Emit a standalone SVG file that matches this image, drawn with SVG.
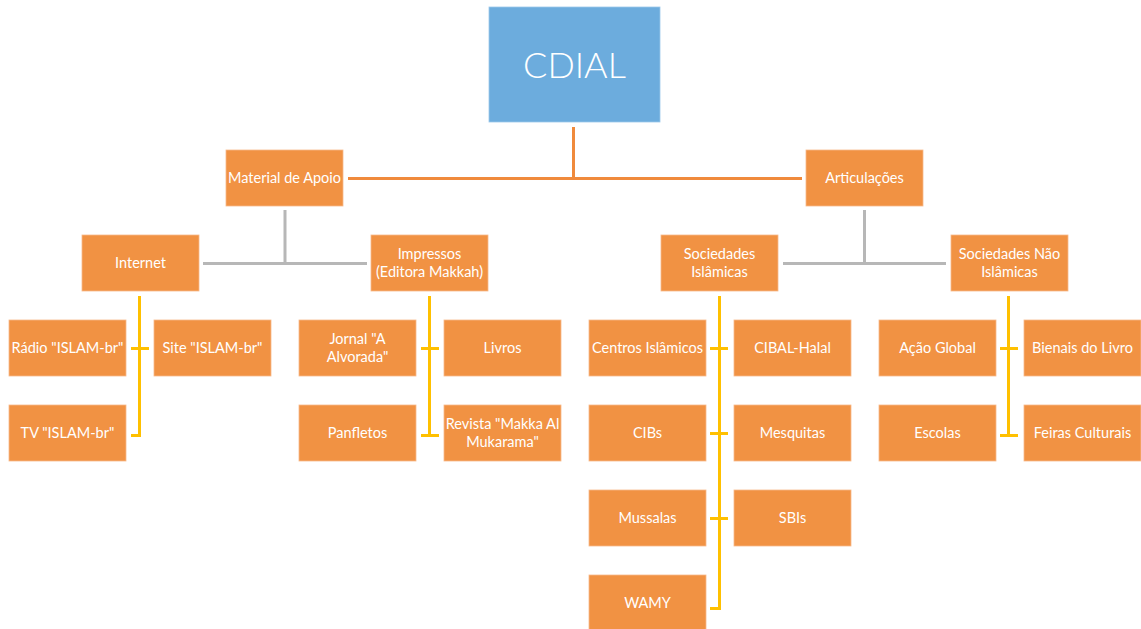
<svg xmlns="http://www.w3.org/2000/svg" width="1141" height="629" viewBox="0 0 1141 629">
<style>
.b{fill:#F19243;stroke:#F7B98A;stroke-width:0.8}
.t{font-family:Lato,"Open Sans",sans-serif;font-size:14.5px;fill:#FFFFFF;text-anchor:middle}
.o{stroke:#F08A3C;stroke-width:3;fill:none}
.g{stroke:#B7B7B7;stroke-width:3;fill:none}
.y{stroke:#FFC000;stroke-width:3;fill:none}
</style>
<rect width="1141" height="629" fill="#FFFFFF"/>
<g id="connectors">
<path class="o" d="M573.5 127V178.5M348 178.5H802"/>
<path class="g" d="M285 210V263.5M203 263.5H367"/>
<path class="g" d="M864.5 210V263.5M783 263.5H946"/>
<path class="y" d="M139.5 296V435.5H131M131 348.5H149"/>
<path class="y" d="M429.5 296V435.5M421 348.5H439M421 435.5H439"/>
<path class="y" d="M719.5 296V608.5H710M710 348.5H728M710 433.5H728M710 518.5H728"/>
<path class="y" d="M1008.5 296V435.5M1000 348.5H1018M1000 435.5H1018"/>
</g>
<g id="cdial"><rect x="489" y="7" width="171" height="115" fill="#6CACDD" stroke="#9CC8EA" stroke-width="0.8"/><text x="574.5" y="78" font-family="Lato,'Open Sans',sans-serif" font-size="36" font-weight="300" fill="#FFFFFF" text-anchor="middle">CDIAL</text></g>
<g id="material"><rect class="b" x="226" y="150" width="117" height="56"/><text class="t" x="284.5" y="183" textLength="113" lengthAdjust="spacingAndGlyphs">Material de Apoio</text></g>
<g id="articulacoes"><rect class="b" x="806" y="150" width="117" height="56"/><text class="t" x="864.5" y="183">Articulações</text></g>
<g id="internet"><rect class="b" x="82" y="235" width="117" height="56"/><text class="t" x="140.5" y="268">Internet</text></g>
<g id="impressos"><rect class="b" x="371" y="235" width="117" height="56"/><text class="t" x="429.5" y="259">Impressos</text><text class="t" x="429.5" y="277">(Editora Makkah)</text></g>
<g id="soc-islamicas"><rect class="b" x="661" y="235" width="117" height="56"/><text class="t" x="719.5" y="259">Sociedades</text><text class="t" x="719.5" y="277">Islâmicas</text></g>
<g id="soc-nao-islamicas"><rect class="b" x="951" y="235" width="117" height="56"/><text class="t" x="1009.5" y="259">Sociedades Não</text><text class="t" x="1009.5" y="277">Islâmicas</text></g>
<g id="radio"><rect class="b" x="9" y="320" width="117" height="56"/><text class="t" x="67.5" y="353">Rádio "ISLAM-br"</text></g>
<g id="site"><rect class="b" x="154" y="320" width="117" height="56"/><text class="t" x="212.5" y="353">Site "ISLAM-br"</text></g>
<g id="tv"><rect class="b" x="9" y="405" width="117" height="56"/><text class="t" x="67.5" y="438">TV "ISLAM-br"</text></g>
<g id="jornal"><rect class="b" x="299" y="320" width="117" height="56"/><text class="t" x="357.5" y="344">Jornal "A</text><text class="t" x="357.5" y="362">Alvorada"</text></g>
<g id="livros"><rect class="b" x="444" y="320" width="117" height="56"/><text class="t" x="502.5" y="353">Livros</text></g>
<g id="panfletos"><rect class="b" x="299" y="405" width="117" height="56"/><text class="t" x="357.5" y="438">Panfletos</text></g>
<g id="revista"><rect class="b" x="444" y="405" width="117" height="56"/><text class="t" x="502.5" y="429">Revista "Makka Al</text><text class="t" x="502.5" y="447">Mukarama"</text></g>
<g id="centros"><rect class="b" x="589" y="320" width="117" height="56"/><text class="t" x="647.5" y="353">Centros Islâmicos</text></g>
<g id="cibal"><rect class="b" x="734" y="320" width="117" height="56"/><text class="t" x="792.5" y="353">CIBAL-Halal</text></g>
<g id="cibs"><rect class="b" x="589" y="405" width="117" height="56"/><text class="t" x="647.5" y="438">CIBs</text></g>
<g id="mesquitas"><rect class="b" x="734" y="405" width="117" height="56"/><text class="t" x="792.5" y="438">Mesquitas</text></g>
<g id="mussalas"><rect class="b" x="589" y="490" width="117" height="56"/><text class="t" x="647.5" y="523">Mussalas</text></g>
<g id="sbis"><rect class="b" x="734" y="490" width="117" height="56"/><text class="t" x="792.5" y="523">SBIs</text></g>
<g id="wamy"><rect class="b" x="589" y="575" width="117" height="56"/><text class="t" x="647.5" y="608">WAMY</text></g>
<g id="acao"><rect class="b" x="879" y="320" width="117" height="56"/><text class="t" x="937.5" y="353">Ação Global</text></g>
<g id="bienais"><rect class="b" x="1024" y="320" width="117" height="56"/><text class="t" x="1082.5" y="353">Bienais do Livro</text></g>
<g id="escolas"><rect class="b" x="879" y="405" width="117" height="56"/><text class="t" x="937.5" y="438">Escolas</text></g>
<g id="feiras"><rect class="b" x="1024" y="405" width="117" height="56"/><text class="t" x="1082.5" y="438">Feiras Culturais</text></g>
</svg>
